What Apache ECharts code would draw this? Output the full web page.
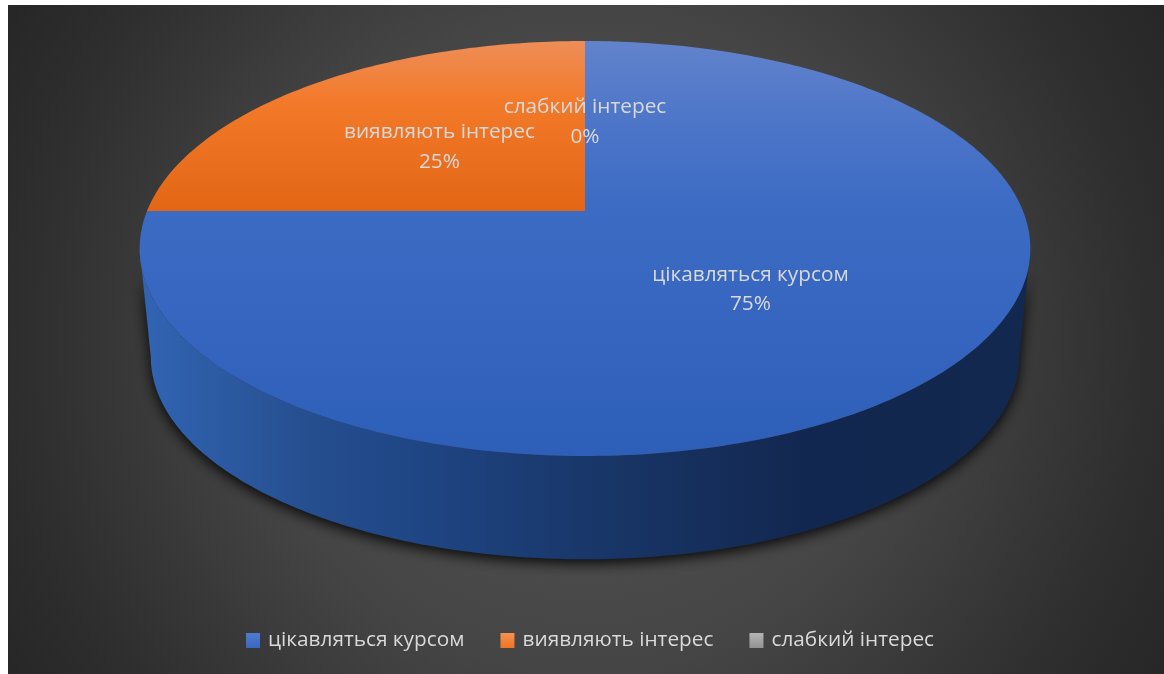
<!DOCTYPE html>
<html>
<head>
<meta charset="utf-8">
<title>Інтерес до курсу</title>
<script src="https://cdn.jsdelivr.net/npm/echarts@6/dist/echarts.min.js"></script>
<style>
  html, body { margin: 0; background: #fff; }
  #chart { position: absolute; left: 8px; top: 5px; width: 1156px; height: 669px; }
</style>
</head>
<body>
<div id="chart"></div>
<script>
const categories = ['цікавляться курсом', 'виявляють інтерес', 'слабкий інтерес'];
const seriesValues = [75, 25, 0];

const topColors = [
  [[0, '#6283cc'], [0.22, '#4a74c8'], [0.41, '#3c6bc4'], [1, '#2e5fb8']],
  [[0, '#ee8d58'], [0.35, '#f37a2a'], [1, '#e26614']],
  [[0, '#c4c4c4'], [1, '#8f8f8f']]
];
const legendColors = [
  [[0, '#4f7ad0'], [1, '#3a68bf']],
  [[0, '#f49255'], [1, '#ef7420']],
  [[0, '#b5b5b5'], [1, '#929292']]
];
const sideStops = [
  [0, '#3164b3'], [0.18, '#264f90'], [0.3, '#1f4685'], [0.5, '#19376a'], [0.75, '#12274f'], [1, '#13284e']
];

// canvas offset of the panel inside the page
const offX = 8, offY = 5;
// top face of the disc, a circle seen in perspective
const cx = 585 - offX, cyTop = 211 - offY, radius = 438, yScale = 200.7, persp = 0.1807;
// bottom face is a little smaller and further down
const bottomScale = 0.975, cyBottom = 320.4 - offY;

const project = (ang, r, cy, s) => {
  const u = Math.sin(ang) * r, v = -Math.cos(ang) * r;
  const w = 1 - persp * v;
  return [cx + s * radius * u / w, cy + s * yScale * v / w];
};

const total = seriesValues.reduce((a, b) => a + b, 0);
const startAngle = i => seriesValues.slice(0, i).reduce((a, b) => a + b, 0) / total * Math.PI * 2;

const vGrad = stops => ({
  type: 'linear', global: true, x: 0, y: 41 - offY, x2: 0, y2: 456 - offY,
  colorStops: stops.map(s => ({ offset: s[0], color: s[1] }))
});
const iconGrad = stops => ({
  type: 'linear', x: 0, y: 0, x2: 0, y2: 1,
  colorStops: stops.map(s => ({ offset: s[0], color: s[1] }))
});
const orangeGrad = {
  type: 'linear', global: true, x: 0, y: 41 - offY, x2: 0, y2: 211 - offY,
  colorStops: topColors[1].map(s => ({ offset: s[0], color: s[1] }))
};
const sideGrad = {
  type: 'linear', global: true, x: 145 - offX, y: 0, x2: 1030 - offX, y2: 0,
  colorStops: sideStops.map(s => ({ offset: s[0], color: s[1] }))
};

const renderSlice = (params, api) => {
  const i = params.seriesIndex;
  const a0 = startAngle(i);
  const a1 = a0 + api.value(0) / total * Math.PI * 2;
  const children = [];

  // side wall, only the part that faces the viewer
  const visFrom = Math.acos(-persp), visTo = Math.PI * 2 - visFrom;
  const s0 = Math.max(a0, visFrom), s1 = Math.min(a1, visTo);
  if (s1 > s0) {
    const upper = [], lower = [];
    for (let k = 0; k <= 200; k++) {
      const a = s0 + (s1 - s0) * k / 200;
      upper.push(project(a, 1, cyTop, 1));
      lower.push(project(a, 1, cyBottom, bottomScale));
    }
    children.push({
      type: 'polygon',
      shape: { points: upper.concat(lower.reverse()) },
      style: {
        fill: sideGrad,
        shadowBlur: 14,
        shadowOffsetY: 4,
        shadowColor: 'rgba(0,0,0,0.9)'
      }
    });
  }

  // top face
  if (a1 > a0) {
    const pts = [project(0, 0, cyTop, 1)];
    const n = Math.ceil((a1 - a0) * 60);
    for (let k = 0; k <= n; k++) {
      pts.push(project(a0 + (a1 - a0) * k / n, 1, cyTop, 1));
    }
    children.push({
      type: 'polygon',
      shape: { points: pts },
      style: { fill: i === 1 ? orangeGrad : vGrad(topColors[i]) }
    });
  }

  // label sits half way out along the middle of the slice
  const mid = project((a0 + a1) / 2, 0.5, cyTop, 1);
  children.push({
    type: 'text',
    z2: 10,
    style: {
      x: mid[0],
      y: mid[1] + 3,
      text: categories[i] + '\n' + api.value(0) + '%',
      fill: '#d9d9d9',
      font: '20.8px "Open Sans"',
      lineHeight: 29.5,
      align: 'center',
      verticalAlign: 'middle'
    }
  });

  return { type: 'group', children };
};

const chart = echarts.init(document.getElementById('chart'));

chart.setOption({
  animation: false,
  backgroundColor: {
    type: 'radial', x: 0.5, y: 0.5, r: 0.99,
    colorStops: [
      { offset: 0, color: '#565656' },
      { offset: 0.5, color: '#454545' },
      { offset: 0.85, color: '#2e2e2e' },
      { offset: 1, color: '#272727' }
    ]
  },
  legend: {
    left: 233,
    top: 620,
    itemWidth: 14,
    itemHeight: 15,
    itemGap: 36,
    icon: 'rect',
    data: categories,
    textStyle: { color: '#d9d9d9', fontFamily: 'Open Sans', fontSize: 20.8, padding: [3, 0, 0, 3] }
  },
  series: categories.map((name, i) => ({
    name,
    type: 'custom',
    coordinateSystem: 'none',
    silent: true,
    itemStyle: { color: iconGrad(legendColors[i]) },
    renderItem: renderSlice,
    data: [[seriesValues[i]]]
  }))
});

window.addEventListener('resize', () => {
  chart && chart.resize();
});
</script>
</body>
</html>
